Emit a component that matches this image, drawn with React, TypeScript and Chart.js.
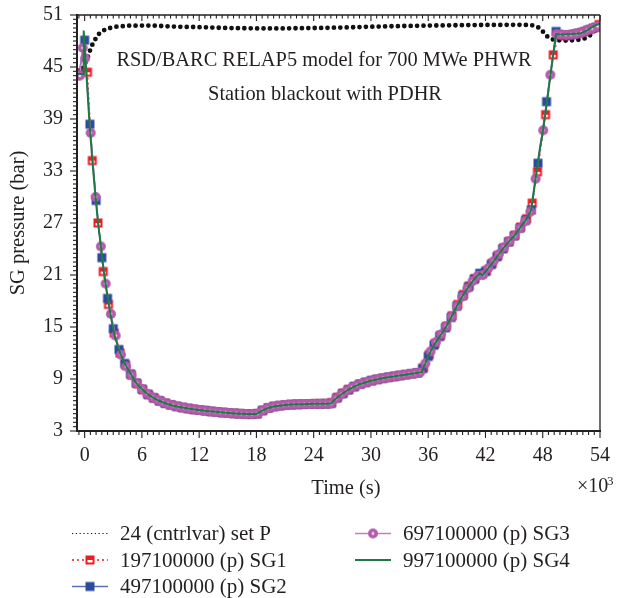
import React, { useEffect, useRef } from "react";
import { Chart, registerables } from "chart.js";
Chart.register(...registerables);

// ---------- data (time in 10^3 s, pressure in bar) ----------
const xTicks = [0, 6, 12, 18, 24, 30, 36, 42, 48, 54];
const yTicks = [3, 9, 15, 21, 27, 33, 39, 45, 51];

const seriesLabels = [
  "24 (cntrlvar) set P",
  "197100000 (p) SG1",
  "497100000 (p) SG2",
  "697100000 (p) SG3",
  "997100000 (p) SG4",
];
const titleLines = ["RSD/BARC RELAP5 model for 700 MWe PHWR", "Station blackout with PDHR"];
const xTitle = "Time (s)";
const yTitle = "SG pressure (bar)";
const xMultiplier = "\u00d710";
const xMultiplierExp = "3";

const tSetP = [-0.8, -0.3, 0.0, 0.35, 0.7, 1.05, 1.55, 2.25, 3.3, 4.7, 7.0, 9.6, 12.0, 15.0, 18.0, 21.0, 24.0, 27.0, 30.0, 33.0, 36.0, 39.0, 42.0, 45.0, 46.8, 47.5, 48.0, 48.5, 49.0, 49.5, 50.5, 51.5, 52.2, 52.8, 53.3, 53.7, 54.0];
const pSetP = [44.6, 44.7, 45.3, 46.2, 47.35, 48.1, 48.9, 49.4, 49.65, 49.77, 49.78, 49.65, 49.6, 49.5, 49.45, 49.45, 49.5, 49.55, 49.65, 49.72, 49.78, 49.82, 49.85, 49.87, 49.85, 49.6, 49.1, 48.5, 48.2, 48.1, 48.05, 48.1, 48.2, 48.5, 49.0, 49.5, 50.0];

const tSG1 = [-0.7, 0.3, 0.8, 1.4, 1.95, 2.5, 3.1, 3.7, 4.3, 4.9, 5.5, 6.1, 6.7, 7.3, 7.9, 8.5, 9.1, 9.7, 10.3, 10.9, 11.5, 12.1, 12.7, 13.3, 13.9, 14.5, 15.1, 15.7, 16.3, 16.9, 17.5, 18.1, 18.7, 19.3, 19.9, 20.5, 21.1, 21.7, 22.3, 22.9, 23.5, 24.1, 24.7, 25.3, 25.9, 26.5, 27.1, 27.7, 28.3, 28.9, 29.5, 30.1, 30.7, 31.3, 31.9, 32.5, 33.1, 33.7, 34.3, 34.9, 35.5, 36.1, 36.7, 37.3, 37.9, 38.5, 39.1, 39.7, 40.3, 40.9, 41.5, 42.1, 42.7, 43.3, 43.9, 44.5, 45.1, 45.7, 46.3, 46.9, 47.45, 48.3, 49.1, 49.7, 50.3, 50.9, 51.5, 52.1, 52.7, 53.3, 53.9];
const pSG1 = [44.3, 44.4, 34.2, 27.0, 21.4, 17.6, 14.3, 12.0, 10.6, 9.45, 8.45, 7.75, 7.18, 6.78, 6.45, 6.2, 6.0, 5.83, 5.7, 5.59, 5.49, 5.41, 5.33, 5.26, 5.19, 5.13, 5.08, 5.03, 4.99, 4.96, 4.95, 5.0, 5.4, 5.68, 5.84, 5.93, 6.01, 6.05, 6.08, 6.1, 6.12, 6.13, 6.14, 6.15, 6.28, 6.9, 7.38, 7.8, 8.15, 8.43, 8.63, 8.82, 8.97, 9.1, 9.21, 9.31, 9.41, 9.51, 9.61, 9.72, 10.3, 11.8, 13.1, 14.05, 15.1, 16.3, 17.6, 18.75, 19.75, 20.6, 21.1, 21.5, 22.35, 23.25, 24.15, 24.9, 25.6, 26.55, 27.5, 29.3, 32.9, 39.5, 46.4, 48.7, 48.6, 48.7, 48.85, 49.0, 49.25, 49.5, 49.9];

const tSG2 = [-0.6, 0.0, 0.55, 1.2, 1.8, 2.4, 3.0, 3.6, 4.2, 4.8, 5.4, 6.0, 6.6, 7.2, 7.8, 8.4, 9.0, 9.6, 10.2, 10.8, 11.4, 12.0, 12.6, 13.2, 13.8, 14.4, 15.0, 15.6, 16.2, 16.8, 17.4, 18.0, 18.6, 19.2, 19.8, 20.4, 21.0, 21.6, 22.2, 22.8, 23.4, 24.0, 24.6, 25.2, 25.8, 26.4, 27.0, 27.6, 28.2, 28.8, 29.4, 30.0, 30.6, 31.2, 31.8, 32.4, 33.0, 33.6, 34.2, 34.8, 35.4, 36.0, 36.6, 37.2, 37.8, 38.4, 39.0, 39.6, 40.2, 40.8, 41.4, 42.0, 42.6, 43.2, 43.8, 44.4, 45.0, 45.6, 46.2, 46.8, 47.5, 48.4, 49.4, 50.0, 50.6, 51.2, 51.8, 52.4, 53.0, 53.6];
const pSG2 = [44.2, 48.1, 38.4, 29.6, 23.0, 18.3, 14.8, 12.4, 10.8, 9.6, 8.55, 7.85, 7.25, 6.85, 6.5, 6.22, 6.02, 5.85, 5.72, 5.6, 5.5, 5.42, 5.35, 5.27, 5.2, 5.14, 5.09, 5.04, 5.0, 4.96, 4.95, 4.97, 5.35, 5.65, 5.82, 5.92, 6.0, 6.05, 6.08, 6.1, 6.12, 6.13, 6.14, 6.15, 6.18, 6.8, 7.3, 7.75, 8.1, 8.4, 8.6, 8.8, 8.95, 9.08, 9.2, 9.3, 9.4, 9.5, 9.6, 9.7, 10.2, 11.6, 12.9, 13.9, 14.9, 16.1, 17.4, 18.6, 19.6, 20.5, 21.2, 21.4, 22.2, 23.1, 24.0, 24.8, 25.5, 26.4, 27.3, 28.5, 33.9, 41.0, 49.1, 48.7, 48.65, 48.75, 48.9, 49.1, 49.35, 49.6];

const tSG3 = [-0.8, -0.5, -0.2, 0.05, 0.63, 1.15, 1.7, 2.2, 2.75, 3.25, 3.8, 4.35, 4.9, 5.45, 6.0, 6.55, 7.1, 7.65, 8.2, 8.75, 9.3, 9.85, 10.4, 10.95, 11.5, 12.05, 12.6, 13.15, 13.7, 14.25, 14.8, 15.35, 15.9, 16.45, 17.0, 17.55, 18.1, 18.65, 19.2, 19.75, 20.3, 20.85, 21.4, 21.95, 22.5, 23.05, 23.6, 24.15, 24.7, 25.25, 25.8, 26.35, 26.9, 27.45, 28.0, 28.55, 29.1, 29.65, 30.2, 30.75, 31.3, 31.85, 32.4, 32.95, 33.5, 34.05, 34.6, 35.15, 35.7, 36.25, 36.8, 37.35, 37.9, 38.45, 39.0, 39.55, 40.1, 40.65, 41.2, 41.75, 42.3, 42.85, 43.4, 43.95, 44.5, 45.05, 45.6, 46.15, 46.7, 47.25, 48.05, 48.8, 49.45, 49.9, 50.45, 51.0, 51.55, 52.1, 52.65, 53.2, 53.75];
const pSG3 = [44.0, 44.0, 47.2, 46.0, 37.4, 30.0, 24.3, 20.0, 16.5, 14.0, 11.8, 10.45, 9.45, 8.5, 7.85, 7.3, 6.9, 6.58, 6.32, 6.1, 5.93, 5.8, 5.68, 5.58, 5.49, 5.41, 5.34, 5.27, 5.21, 5.15, 5.1, 5.06, 5.02, 4.98, 4.95, 4.95, 5.0, 5.38, 5.65, 5.8, 5.9, 5.98, 6.04, 6.07, 6.09, 6.11, 6.12, 6.13, 6.14, 6.15, 6.18, 6.75, 7.22, 7.65, 8.0, 8.28, 8.5, 8.68, 8.85, 8.98, 9.1, 9.2, 9.3, 9.39, 9.48, 9.58, 9.67, 9.76, 10.8, 12.2, 13.25, 14.15, 15.1, 16.2, 17.4, 18.5, 19.45, 20.3, 20.9, 21.0, 21.8, 22.6, 23.4, 24.2, 24.9, 25.55, 26.4, 27.2, 28.3, 32.1, 37.7, 44.1, 48.8, 48.75, 48.7, 48.75, 48.85, 49.0, 49.25, 49.45, 49.7];

const tSG4 = [-0.8, -0.15, -0.1, 0.5, 0.8, 1.1, 1.4, 1.7, 2.0, 2.3, 2.6, 2.9, 3.2, 3.5, 3.8, 4.1, 4.4, 4.7, 5.0, 5.3, 5.6, 5.9, 6.2, 6.5, 6.8, 7.1, 7.4, 7.7, 8.0, 8.6, 9.2, 9.8, 10.4, 11.0, 11.6, 12.2, 12.8, 13.4, 14.0, 14.6, 15.2, 15.8, 16.4, 17.0, 17.6, 18.0, 18.6, 19.2, 19.8, 20.4, 21.0, 21.6, 22.2, 22.8, 23.4, 24.0, 24.6, 25.2, 25.8, 26.4, 27.0, 27.6, 28.2, 28.8, 29.4, 30.0, 30.6, 31.2, 31.8, 32.4, 33.0, 33.6, 34.2, 34.8, 35.3, 35.7, 36.0, 36.3, 36.6, 36.9, 37.2, 37.5, 37.8, 38.4, 39.0, 39.6, 40.2, 40.8, 41.4, 41.7, 42.0, 42.6, 43.2, 43.8, 44.4, 45.0, 45.6, 46.2, 46.8, 47.1, 47.4, 47.7, 48.0, 48.3, 48.6, 48.9, 49.2, 49.4, 50.0, 51.0, 52.0, 52.6, 53.0, 53.5, 54.0];
const pSG4 = [44.2, 44.2, 49.2, 38.7, 34.3, 30.5, 27.0, 24.4, 21.5, 19.2, 17.2, 15.3, 13.8, 12.7, 11.8, 11.0, 10.4, 9.8, 9.3, 8.7, 8.3, 7.95, 7.65, 7.35, 7.1, 6.9, 6.7, 6.55, 6.4, 6.15, 5.95, 5.8, 5.68, 5.58, 5.48, 5.4, 5.32, 5.25, 5.18, 5.12, 5.07, 5.02, 4.98, 4.95, 4.95, 4.97, 5.35, 5.65, 5.82, 5.92, 6.0, 6.05, 6.08, 6.1, 6.12, 6.13, 6.14, 6.15, 6.18, 6.8, 7.3, 7.75, 8.1, 8.4, 8.6, 8.8, 8.95, 9.08, 9.2, 9.3, 9.4, 9.5, 9.6, 9.7, 9.8, 10.8, 11.6, 12.3, 12.9, 13.4, 13.9, 14.4, 14.9, 16.1, 17.4, 18.6, 19.6, 20.5, 21.2, 20.95, 21.4, 22.2, 23.1, 24.0, 24.8, 25.5, 26.4, 27.3, 28.5, 31.0, 33.3, 35.6, 37.5, 39.8, 42.3, 44.8, 47.2, 48.8, 48.75, 48.8, 48.9, 49.2, 49.5, 49.8, 50.0];

// ---------- styling ----------
const FONT = '"Liberation Serif", "Times New Roman", serif';
const TEXT = "#231f20";
const AXIS = "#231f20";
const C_BLACK = "#111111";
const C_RED = "#ec1c24";
const C_BLUE = "#2e4a9e";
const C_BLUE_LINE = "#5a6fb8";
const C_MAG = "#b55bab";
const C_MAG_LINE = "#c47fbd";
const C_GREEN = "#1d7a46";

function pts(t: number[], p: number[]) {
  return t.map((x, i) => ({ x, y: p[i] }));
}

function makeMarker(kind: string): HTMLCanvasElement {
  const c = document.createElement("canvas");
  c.width = 12;
  c.height = 12;
  const g = c.getContext("2d")!;
  if (kind === "red") {
    g.fillStyle = C_RED;
    g.fillRect(1.5, 1.5, 9, 9);
    g.fillStyle = "#ffffff";
    g.fillRect(3.5, 6, 5, 2.5);
  } else if (kind === "blue") {
    g.fillStyle = C_BLUE;
    g.fillRect(1.5, 1.5, 9, 9);
  } else {
    g.fillStyle = C_MAG;
    g.beginPath();
    g.arc(6, 6, 5, 0, Math.PI * 2);
    g.fill();
    g.fillStyle = "#f4e6f2";
    g.beginPath();
    g.arc(6, 6, 1.4, 0, Math.PI * 2);
    g.fill();
  }
  return c;
}

export default function App() {
  const ref = useRef<HTMLCanvasElement>(null);

  useEffect(() => {
    const mRed = makeMarker("red");
    const mBlue = makeMarker("blue");
    const mMag = makeMarker("mag");

    const line = (ctx: CanvasRenderingContext2D, x1: number, y1: number, x2: number, y2: number) => {
      ctx.beginPath();
      ctx.moveTo(x1, y1);
      ctx.lineTo(x2, y2);
      ctx.stroke();
    };

    const decor = {
      id: "decor",
      afterDraw(chart: any) {
        const ctx: CanvasRenderingContext2D = chart.ctx;
        const { left, right, top, bottom } = chart.chartArea;
        const xs = chart.scales.x;
        const ys = chart.scales.y;
        ctx.save();
        ctx.strokeStyle = AXIS;
        // frame
        ctx.lineWidth = 1.3;
        line(ctx, left, top, right, top);
        line(ctx, right, top, right, bottom);
        ctx.lineWidth = 2;
        line(ctx, left, top - 1, left, bottom + 1);
        line(ctx, left - 1, bottom, right + 1, bottom);
        // x ticks (bottom outward, top inward)
        ctx.lineWidth = 1.1;
        for (let k = -1; k <= 90; k++) {
          const v = k * 0.6;
          if (v < xs.min || v > xs.max) continue;
          const px = xs.getPixelForValue(v);
          const major = k % 10 === 0;
          line(ctx, px, bottom, px, bottom + (major ? 7 : 4));
          line(ctx, px, top, px, top + (major ? 6 : 3.5));
        }
        // y ticks (left outward)
        for (let k = 0; k <= 96; k++) {
          const v = 3 + k * 0.5;
          const py = ys.getPixelForValue(v);
          const major = k % 12 === 0;
          line(ctx, left - (major ? 7 : 4), py, left, py);
        }

        // texts
        ctx.fillStyle = TEXT;
        ctx.font = `20.4px ${FONT}`;
        ctx.textBaseline = "alphabetic";
        ctx.textAlign = "center";
        ctx.fillText(titleLines[0], 324, 66);
        ctx.fillText(titleLines[1], 325, 100);
        ctx.font = `20.5px ${FONT}`;
        ctx.fillText(xTitle, 346, 494);
        ctx.textAlign = "left";
        ctx.font = `20px ${FONT}`;
        ctx.fillText(xMultiplier, 577, 492);
        ctx.font = `13px ${FONT}`;
        ctx.fillText(xMultiplierExp, 607, 485);
        ctx.font = `20.5px ${FONT}`;
        ctx.save();
        ctx.translate(24, (top + bottom) / 2);
        ctx.rotate(-Math.PI / 2);
        ctx.textAlign = "center";
        ctx.fillText(yTitle, 0, 0);
        ctx.restore();

        // legend
        const rows = [
          { x: 72, y: 533.5, label: seriesLabels[0], kind: "black" },
          { x: 72, y: 560, label: seriesLabels[1], kind: "red" },
          { x: 72, y: 586.5, label: seriesLabels[2], kind: "blue" },
          { x: 355, y: 533.5, label: seriesLabels[3], kind: "mag" },
          { x: 355, y: 560, label: seriesLabels[4], kind: "green" },
        ];
        for (const r of rows) {
          const x1 = r.x, x2 = r.x + 36, cx = r.x + 18;
          ctx.save();
          if (r.kind === "black") {
            ctx.strokeStyle = C_BLACK;
            ctx.lineWidth = 1.2;
            ctx.setLineDash([1.2, 2.6]);
            line(ctx, x1, r.y, x2, r.y);
          } else if (r.kind === "red") {
            ctx.strokeStyle = C_RED;
            ctx.lineWidth = 1.3;
            ctx.setLineDash([2, 3]);
            line(ctx, x1, r.y, x2, r.y);
            ctx.drawImage(mRed, cx - 6, r.y - 6);
          } else if (r.kind === "blue") {
            ctx.strokeStyle = C_BLUE_LINE;
            ctx.lineWidth = 1.6;
            line(ctx, x1, r.y, x2, r.y);
            ctx.drawImage(mBlue, cx - 6, r.y - 6);
          } else if (r.kind === "mag") {
            ctx.strokeStyle = C_MAG_LINE;
            ctx.lineWidth = 1.6;
            line(ctx, x1, r.y, x2, r.y);
            ctx.drawImage(mMag, cx - 6, r.y - 6);
          } else {
            ctx.strokeStyle = C_GREEN;
            ctx.lineWidth = 1.8;
            line(ctx, x1, r.y, x2, r.y);
          }
          ctx.restore();
          ctx.fillStyle = TEXT;
          ctx.font = `21px ${FONT}`;
          ctx.textAlign = "left";
          ctx.fillText(r.label, r.x + 48, r.y + 6.5);
        }
        ctx.restore();
      },
    };

    const chart = new Chart(ref.current!, {
      type: "line",
      data: {
        datasets: [
          {
            label: seriesLabels[4],
            data: pts(tSG4, pSG4),
            borderColor: C_GREEN,
            borderWidth: 2,
            pointRadius: 0,
            order: 0,
          },
          {
            label: seriesLabels[3],
            data: pts(tSG3, pSG3),
            borderColor: C_MAG_LINE,
            borderWidth: 1.4,
            pointStyle: mMag as any,
            pointRadius: 5,
            order: 1,
          },
          {
            label: seriesLabels[2],
            data: pts(tSG2, pSG2),
            borderColor: C_BLUE_LINE,
            borderWidth: 1.4,
            pointStyle: mBlue as any,
            pointRadius: 5,
            order: 2,
          },
          {
            label: seriesLabels[1],
            data: pts(tSG1, pSG1),
            borderColor: C_RED,
            borderWidth: 1.2,
            borderDash: [2, 3],
            pointStyle: mRed as any,
            pointRadius: 5,
            order: 3,
          },
          {
            label: seriesLabels[0],
            data: pts(tSetP, pSetP),
            borderColor: C_BLACK,
            borderWidth: 4.8,
            borderDash: [0, 6.4],
            borderCapStyle: "round",
            pointRadius: 0,
            order: 4,
          },
        ] as any,
      },
      options: {
        responsive: false,
        animation: false,
        devicePixelRatio: 1,
        parsing: false as any,
        layout: { padding: { top: 15, right: 18, left: 0, bottom: 0 } },
        plugins: { legend: { display: false }, tooltip: { enabled: false } },
        elements: { line: { tension: 0 } },
        scales: {
          x: {
            type: "linear",
            min: -0.8,
            max: 54,
            afterBuildTicks: (s: any) => {
              s.ticks = xTicks.map((v) => ({ value: v }));
            },
            afterFit: (s: any) => {
              s.height = 167;
              s.paddingLeft = 0;
              s.paddingRight = 0;
            },
            grid: { display: false, drawTicks: false },
            border: { display: false },
            ticks: {
              autoSkip: false,
              maxRotation: 0,
              padding: 13,
              color: TEXT,
              font: { family: FONT, size: 20 },
              callback: (v: any) => String(v),
            },
          },
          y: {
            type: "linear",
            min: 3,
            max: 51,
            afterBuildTicks: (s: any) => {
              s.ticks = yTicks.map((v) => ({ value: v }));
            },
            afterFit: (s: any) => {
              s.width = 77;
              s.paddingTop = 0;
              s.paddingBottom = 0;
            },
            grid: { display: false, drawTicks: false },
            border: { display: false },
            ticks: {
              padding: 14,
              color: TEXT,
              font: { family: FONT, size: 20 },
              callback: (v: any) => String(v),
            },
          },
        },
      } as any,
      plugins: [decor],
    });
    return () => chart.destroy();
  }, []);

  return (
    <div style={{ position: "absolute", left: 0, top: 0, width: 618, height: 598, background: "#ffffff" }}>
      <canvas ref={ref} width={618} height={598} style={{ display: "block", width: 618, height: 598 }} />
    </div>
  );
}
